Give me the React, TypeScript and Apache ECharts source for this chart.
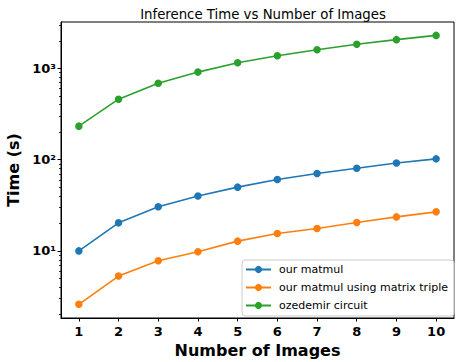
import React, { useEffect, useRef } from "react";
import * as echarts from "echarts";

// Number of images processed in each run
const imageCounts = [1, 2, 3, 4, 5, 6, 7, 8, 9, 10];

// Inference time in seconds, per method
const ourMatmul = [10, 20.3, 30.5, 40, 50, 60.5, 70.5, 80.5, 92, 102];
const ourMatmulTriple = [2.6, 5.3, 7.8, 9.8, 12.8, 15.5, 17.6, 20.5, 23.6, 26.8];
const ozedemirCircuit = [233, 460, 689, 911, 1153, 1377, 1603, 1836, 2066, 2300];

const seriesNames = ["our matmul", "our matmul using matrix triple", "ozedemir circuit"];
const seriesColors = ["#1f77b4", "#ff7f0e", "#2ca02c"];

// Log-axis ticks
const majorTicks = [10, 100, 1000];
const minorTicks = [2, 3, 4, 5, 6, 7, 8, 9, 20, 30, 40, 50, 60, 70, 80, 90, 200, 300, 400, 500, 600, 700, 800, 900, 2000, 3000];
const superscripts: Record<string, string> = { "1": "¹", "2": "²", "3": "³" };

const FONT = "DejaVu Sans";
const Y_MIN = 1.84;
const Y_MAX = 3225;
const X_MIN = 0.55;
const X_MAX = 10.45;

const gridBox = { left: 61, right: 2, top: 22, bottom: 44 };

export default function App() {
  const ref = useRef<HTMLDivElement>(null);

  useEffect(() => {
    document.body.style.margin = "0";
    const chart = echarts.init(ref.current!, null, { renderer: "svg" });

    const allSeries = [ourMatmul, ourMatmulTriple, ozedemirCircuit].map((vals, i) => ({
      name: seriesNames[i],
      type: "line",
      xAxisIndex: 0,
      yAxisIndex: 0,
      data: imageCounts.map((x, j) => [x, vals[j]]),
      symbol: "circle",
      symbolSize: 7.5,
      showSymbol: true,
      lineStyle: { color: seriesColors[i], width: 1.6 },
      itemStyle: { color: seriesColors[i] },
      emphasis: { disabled: true },
    }));

    chart.setOption({
      animation: false,
      textStyle: { fontFamily: FONT },
      title: {
        text: "Inference Time vs Number of Images",
        left: 258,
        top: 3,
        textAlign: "center",
        textStyle: { fontFamily: FONT, fontSize: 13.3, fontWeight: "normal", color: "#000" },
      },
      grid: [
        {
          ...gridBox,
          outerBoundsMode: "none",
          containLabel: false,
          show: true,
          borderColor: "#000",
          borderWidth: 1,
          backgroundColor: "transparent",
        },
        // same box, carries only the minor log ticks
        { ...gridBox, outerBoundsMode: "none", containLabel: false, show: false },
      ],
      legend: {
        orient: "vertical",
        left: 242,
        top: 260,
        itemWidth: 25,
        itemHeight: 9,
        itemGap: 7,
        padding: [4, 6, 5, 3],
        borderColor: "#cccccc",
        borderWidth: 1,
        borderRadius: 3,
        backgroundColor: "rgba(255,255,255,0.8)",
        textStyle: { fontFamily: FONT, fontSize: 11, color: "#000", padding: [0, 0, 0, 3] },
        data: seriesNames,
      },
      xAxis: [
        {
          type: "value",
          gridIndex: 0,
          min: X_MIN,
          max: X_MAX,
          name: "Number of Images",
          nameLocation: "middle",
          nameGap: 24,
          nameTextStyle: { fontFamily: FONT, fontSize: 16, fontWeight: "bold", color: "#000" },
          axisLine: { show: true, lineStyle: { color: "#000", width: 1 } },
          axisTick: { show: true, inside: false, length: 3.5, customValues: imageCounts, lineStyle: { color: "#000" } },
          axisLabel: {
            customValues: imageCounts,
            margin: 7,
            fontFamily: FONT,
            fontSize: 13,
            fontWeight: "bold",
            color: "#000",
          },
          splitLine: { show: false },
        },
        {
          type: "value",
          gridIndex: 1,
          min: X_MIN,
          max: X_MAX,
          show: false,
        },
      ],
      yAxis: [
        {
          type: "log",
          logBase: 10,
          gridIndex: 0,
          min: Y_MIN,
          max: Y_MAX,
          name: "Time (s)",
          nameLocation: "middle",
          nameGap: 33,
          nameTextStyle: { fontFamily: FONT, fontSize: 16, fontWeight: "bold", color: "#000" },
          axisLine: { show: true, lineStyle: { color: "#000", width: 1 } },
          axisTick: { show: true, length: 3.5, customValues: majorTicks, lineStyle: { color: "#000" } },
          axisLabel: {
            customValues: majorTicks,
            margin: 5,
            fontFamily: FONT,
            fontSize: 13,
            fontWeight: "bold",
            color: "#000",
            formatter: (v: number) => {
              const e = String(Math.round(Math.log10(v)));
              return "10" + (superscripts[e] || e);
            },
          },
          splitLine: { show: false },
        },
        {
          type: "log",
          logBase: 10,
          gridIndex: 1,
          min: Y_MIN,
          max: Y_MAX,
          position: "left",
          axisLine: { show: false },
          axisTick: { show: true, length: 2, customValues: minorTicks, lineStyle: { color: "#000", width: 0.8 } },
          axisLabel: { show: false },
          splitLine: { show: false },
        },
      ],
      series: allSeries,
    });

    return () => chart.dispose();
  }, []);

  return <div ref={ref} style={{ width: 456, height: 362 }} />;
}
